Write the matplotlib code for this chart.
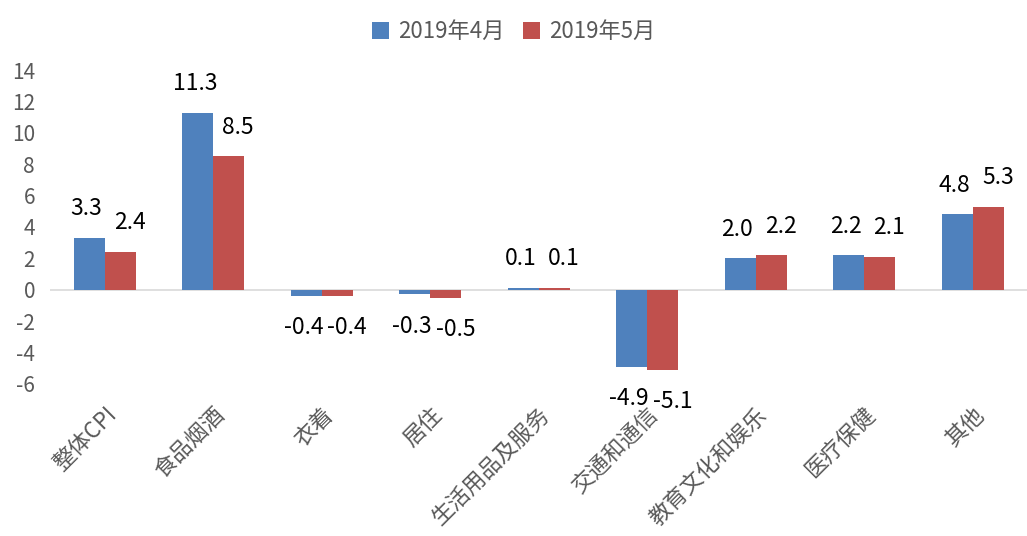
import numpy as np
import matplotlib.pyplot as plt

plt.rcParams['font.family'] = ['Noto Sans CJK SC', 'DejaVu Sans']

# data
categories = ["整体CPI", "食品烟酒", "衣着", "居住", "生活用品及服务",
              "交通和通信", "教育文化和娱乐", "医疗保健", "其他"]
apr_2019 = [3.3, 11.3, -0.4, -0.3, 0.1, -4.9, 2.0, 2.2, 4.8]
may_2019 = [2.4, 8.5, -0.4, -0.5, 0.1, -5.1, 2.2, 2.1, 5.3]
series_names = ["2019年4月", "2019年5月"]
y_ticks = list(range(-6, 15, 2))

blue = "#4F81BD"
red = "#C0504D"
grey = "#595959"

fig = plt.figure(figsize=(10.27, 5.36), dpi=100)
ax = fig.add_axes([0.049, 0.284, 0.951, 0.585])

x = np.arange(len(categories))
w = 0.285
b1 = ax.bar(x - w / 2, apr_2019, w, color=blue, label=series_names[0], zorder=2)
b2 = ax.bar(x + w / 2, may_2019, w, color=red, label=series_names[1], zorder=2)

# value labels (red ones nudged right a bit like the excel original)
for bars, vals, dx in [(b1, apr_2019, -2), (b2, may_2019, 7)]:
    for rect, v in zip(bars, vals):
        cx = rect.get_x() + rect.get_width() / 2
        off = 21 if v >= 0 else -23
        ax.annotate(f"{v:.1f}", (cx, v), xytext=(dx, off),
                    textcoords="offset points", ha="center", va="center",
                    fontsize=16.5, color="black")

ax.axhline(0, color="#D9D9D9", linewidth=1.2, zorder=1)
ax.set_xlim(-0.5, len(categories) - 0.5)
ax.set_ylim(-6, 14)
ax.set_yticks(y_ticks)
ax.tick_params(axis="y", length=0, pad=11, labelsize=15, labelcolor=grey)
ax.set_yticklabels([str(t) for t in y_ticks], ha="right")
ax.set_xticks(x)
ax.set_xticklabels(categories, rotation=45, ha="right", rotation_mode="anchor",
                   fontsize=16, color=grey)
ax.tick_params(axis="x", length=0, pad=14)
for s in ax.spines.values():
    s.set_visible(False)

fig.legend(loc="upper center", bbox_to_anchor=(0.5, 1.0), ncol=2, frameon=False,
           fontsize=16, labelcolor=grey, handlelength=0.8, handleheight=0.8,
           handletextpad=0.4, columnspacing=0.8)

plt.savefig("out.png", dpi=100)
